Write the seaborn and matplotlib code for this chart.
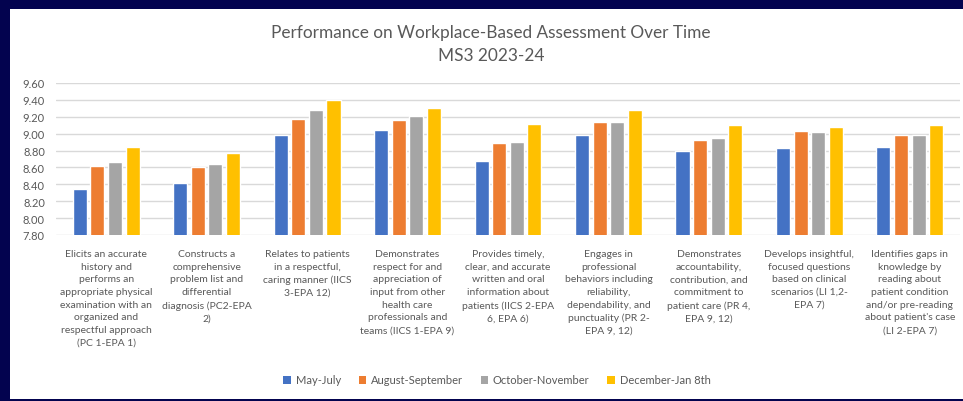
import matplotlib.pyplot as plt
from matplotlib.patches import Rectangle, Patch
import seaborn as sns
import pandas as pd

sns.set_style("white")
plt.rcParams["font.family"] = ["Lato", "DejaVu Sans"]

skills = [
    "Elicits an accurate\nhistory and\nperforms an\nappropriate physical\nexamination with an\norganized and\nrespectful approach\n(PC 1-EPA 1)",
    "Constructs a\ncomprehensive\nproblem list and\ndifferential\ndiagnosis (PC2-EPA\n2)",
    "Relates to patients\nin a respectful,\ncaring manner (IICS\n3-EPA 12)",
    "Demonstrates\nrespect for and\nappreciation of\ninput from other\nhealth care\nprofessionals and\nteams (IICS 1-EPA 9)",
    "Provides timely,\nclear, and accurate\nwritten and oral\ninformation about\npatients (IICS 2-EPA\n6, EPA 6)",
    "Engages in\nprofessional\nbehaviors including\nreliability,\ndependability, and\npunctuality (PR 2-\nEPA 9, 12)",
    "Demonstrates\naccountability,\ncontribution, and\ncommitment to\npatient care (PR 4,\nEPA 9, 12)",
    "Develops insightful,\nfocused questions\nbased on clinical\nscenarios (LI 1,2-\nEPA 7)",
    "Identifies gaps in\nknowledge by\nreading about\npatient condition\nand/or pre-reading\nabout patient's case\n(LI 2-EPA 7)",
]
periods = ["May-July", "August-September", "October-November", "December-Jan 8th"]
may_july = [8.35, 8.42, 8.98, 9.04, 8.68, 8.98, 8.80, 8.83, 8.84]
aug_sep = [8.62, 8.60, 9.17, 9.16, 8.89, 9.14, 8.93, 9.03, 8.99]
oct_nov = [8.66, 8.64, 9.28, 9.21, 8.90, 9.14, 8.95, 9.02, 8.98]
dec_jan = [8.84, 8.77, 9.40, 9.30, 9.11, 9.28, 9.10, 9.08, 9.10]
colors = ["#4472C4", "#ED7D31", "#A5A5A5", "#FFC000"]

rows = []
for period, vals in zip(periods, [may_july, aug_sep, oct_nov, dec_jan]):
    for skill, v in zip(skills, vals):
        rows.append({"skill": skill, "period": period, "score": v})
df = pd.DataFrame(rows)

text_gray = "#595959"
fig = plt.figure(figsize=(9.63, 4.02), dpi=100)
fig.patch.set_facecolor("#03034f")
# white chart panel sitting on the navy slide background
fig.patches.append(Rectangle((10 / 963, 2 / 402), 953 / 963, 390 / 402,
                             transform=fig.transFigure, facecolor="white",
                             edgecolor="none", zorder=-5))

ax = fig.add_axes([56 / 963, 166 / 402, 904 / 963, 152 / 402])
ax.set_zorder(2)
sns.barplot(data=df, x="skill", y="score", hue="period", palette=colors,
            saturation=1, width=0.7, gap=0.2, errorbar=None, legend=False,
            ax=ax, zorder=3)

ax.set_ylim(7.8, 9.6)
ax.set_yticks([7.8 + 0.2 * i for i in range(10)])
ax.set_yticklabels([f"{7.8 + 0.2 * i:.2f}" for i in range(10)])
ax.set_xlim(-0.5, len(skills) - 0.5)
ax.set_xlabel("")
ax.set_ylabel("")
ax.set_facecolor("none")
for s in ax.spines.values():
    s.set_visible(False)
ax.yaxis.grid(True, color="#D9D9D9", linewidth=1, zorder=0)
ax.set_axisbelow(True)
ax.tick_params(axis="y", length=0, labelsize=8, labelcolor=text_gray, pad=8)
ax.tick_params(axis="x", length=0, labelsize=7.5, labelcolor=text_gray, pad=10)
for lbl in ax.get_xticklabels():
    lbl.set_linespacing(1.53)
    lbl.set_verticalalignment("top")

fig.text(0.51, 1 - 33 / 402, "Performance on Workplace-Based Assessment Over Time",
         ha="center", va="center", fontsize=12.4, color=text_gray)
fig.text(0.51, 1 - 56 / 402, "MS3 2023-24", ha="center", va="center",
         fontsize=12.4, color=text_gray)

handles = [Patch(facecolor=c, edgecolor="none") for c in colors]
fig.legend(handles, periods, loc="center", bbox_to_anchor=(0.516, 21 / 402),
           ncol=4, frameon=False, fontsize=8, labelcolor=text_gray,
           handlelength=0.7, handleheight=0.7, handletextpad=0.4,
           columnspacing=1.6)

fig.savefig("out.png", dpi=100, facecolor=fig.get_facecolor())
